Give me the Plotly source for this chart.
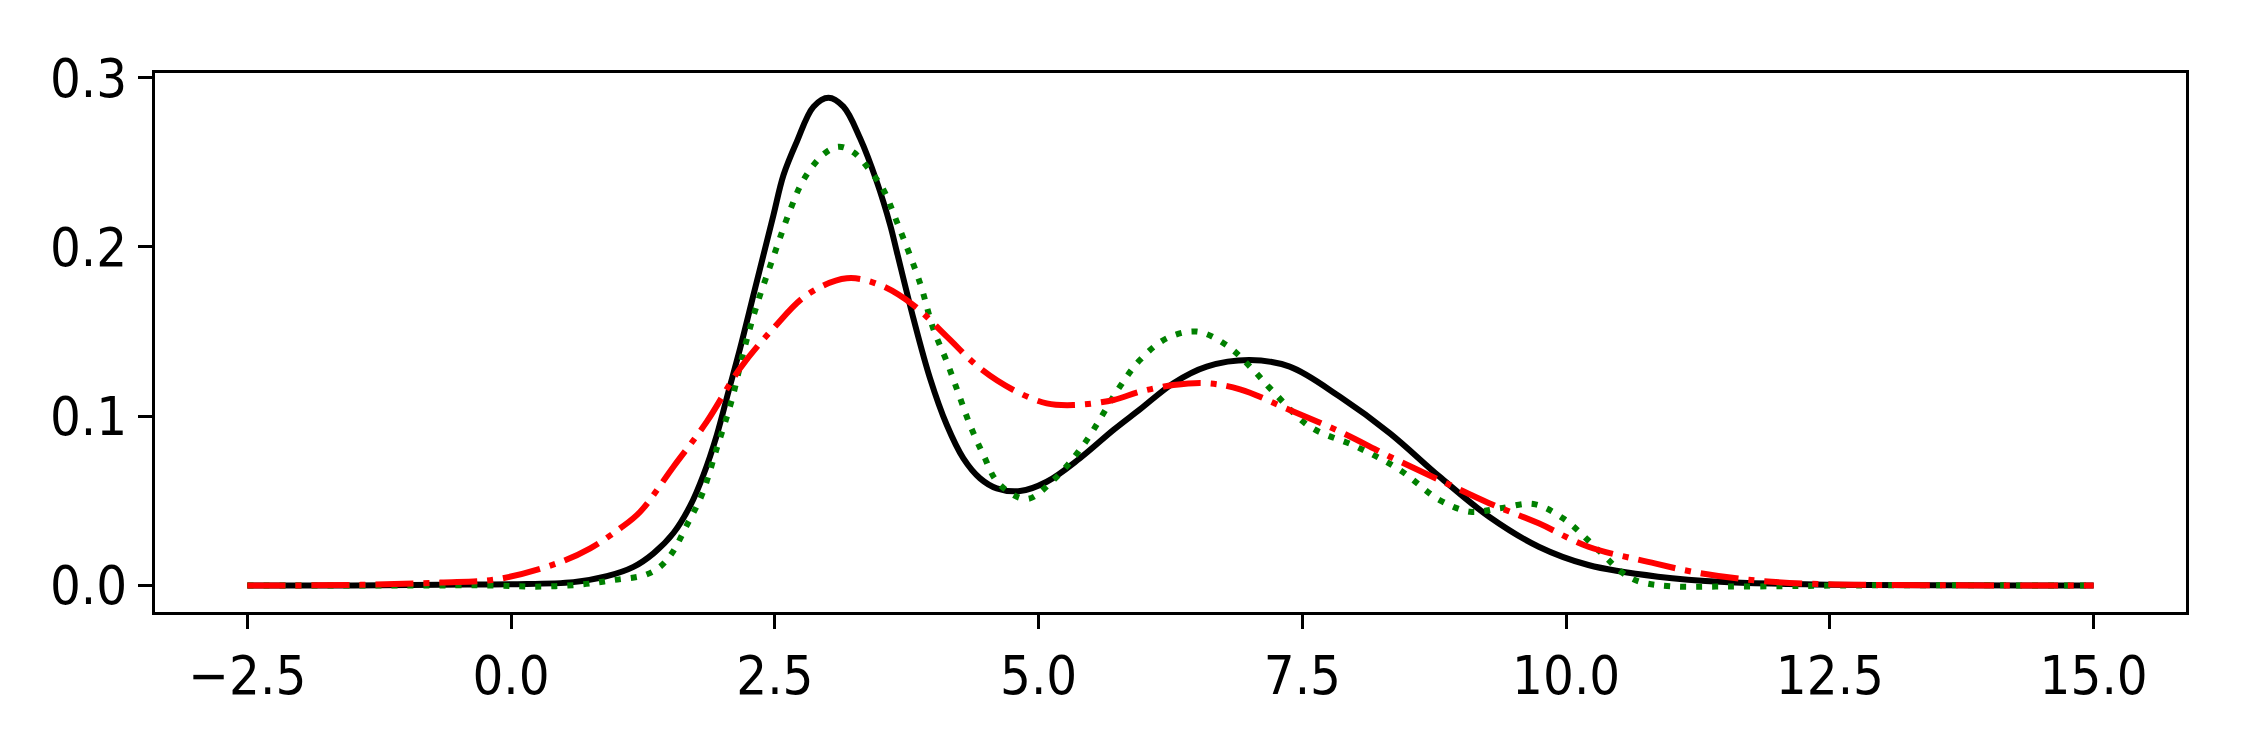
import plotly.graph_objects as go

# ---- data ----
black_x = [-2.5, -1.5, -0.67, 0.0, 0.59, 0.908, 1.16, 1.35, 1.539, 1.697, 1.823, 1.95, 2.06,
           2.171, 2.297, 2.392, 2.487, 2.582, 2.708, 2.866, 3.008, 3.15, 3.308, 3.466, 3.593,
           3.656, 3.813, 3.971, 4.13, 4.287, 4.445, 4.603, 4.824, 5.077, 5.39, 5.71, 5.96,
           6.277, 6.593, 7.0, 7.38, 7.856, 8.33, 8.80, 9.27, 9.74, 10.21, 10.87, 11.5, 12.5,
           13.5, 15.0]
black_y = [0.0, 0.0, 0.0005, 0.0008, 0.002, 0.0055, 0.011, 0.019, 0.031, 0.047, 0.0653,
           0.0889, 0.1145, 0.1401, 0.1716, 0.1953, 0.2189, 0.2425, 0.2622, 0.2829, 0.2882,
           0.2829, 0.2642, 0.2386, 0.213, 0.1972, 0.1579, 0.1224, 0.0948, 0.0751, 0.0633,
           0.0574, 0.0558, 0.0613, 0.0751, 0.0919, 0.104, 0.1195, 0.1293, 0.1332, 0.1293,
           0.1115, 0.0899, 0.0643, 0.0406, 0.0229, 0.0121, 0.0052, 0.002, 0.0005, 0.0001, 0.0]

green_x = [-2.5, -1.0, -0.134, 0.213, 0.655, 0.97, 1.271, 1.41, 1.524, 1.666, 1.808, 1.95,
           2.092, 2.203, 2.329, 2.487, 2.645, 2.771, 2.96, 3.103, 3.245, 3.434, 3.53, 3.656,
           3.877, 4.0, 4.13, 4.24, 4.35, 4.477, 4.619, 4.887, 5.14, 5.424, 5.77, 5.96, 6.214,
           6.5, 6.78, 7.02, 7.224, 7.572, 8.014, 8.425, 8.80, 9.09, 9.37, 9.69, 9.97, 10.32,
           10.54, 10.70, 11.0, 11.5, 12.1, 12.6, 15.0]
green_y = [0.0, 0.0, 0.0, -0.0007, 0.0005, 0.0032, 0.0062, 0.011, 0.019, 0.0357, 0.0535,
           0.0811, 0.1096, 0.1381, 0.1657, 0.1943, 0.2218, 0.2396, 0.2547, 0.2592, 0.2559,
           0.2425, 0.2337, 0.2149, 0.1785, 0.152, 0.1322, 0.1135, 0.0948, 0.0771, 0.0604,
           0.0511, 0.0623, 0.083, 0.1175, 0.1332, 0.146, 0.15, 0.142, 0.1283, 0.1145, 0.0938,
           0.082, 0.0682, 0.0505, 0.0436, 0.0456, 0.0481, 0.0397, 0.02, 0.0072, 0.0022,
           -0.0005, -0.0006, -0.0004, 0.0, 0.0]

red_x = [-2.5, -1.5, -0.67, -0.134, 0.434, 0.75, 1.034, 1.224, 1.539, 1.855, 2.171, 2.487,
         2.803, 3.182, 3.498, 3.813, 4.13, 4.445, 4.761, 5.077, 5.33, 5.71, 5.96, 6.277,
         6.593, 6.909, 7.38, 7.856, 8.33, 8.80, 9.27, 9.74, 10.21, 10.84, 11.19, 11.73,
         12.32, 13.0, 15.0]
red_y = [0.0, 0.0003, 0.0017, 0.0037, 0.0131, 0.022, 0.0338, 0.0436, 0.0702, 0.0968, 0.1283,
         0.152, 0.1716, 0.1815, 0.1775, 0.1657, 0.147, 0.1283, 0.1155, 0.1076, 0.1066,
         0.1096, 0.1145, 0.1184, 0.1195, 0.1159, 0.1037, 0.0909, 0.0761, 0.0623, 0.0486,
         0.0367, 0.0229, 0.0131, 0.0082, 0.0034, 0.001, 0.0003, 0.0]

x_tickvals = [-2.5, 0.0, 2.5, 5.0, 7.5, 10.0, 12.5, 15.0]
x_ticktext = ["−2.5", "0.0", "2.5", "5.0", "7.5", "10.0", "12.5", "15.0"]
y_tickvals = [0.0, 0.1, 0.2, 0.3]
y_ticktext = ["0.0", "0.1", "0.2", "0.3"]

fig = go.Figure()
fig.add_trace(go.Scatter(x=black_x, y=black_y, mode="lines", hoverinfo="skip",
                         line=dict(color="black", width=6, shape="spline", smoothing=1.0)))
fig.add_trace(go.Scatter(x=green_x, y=green_y, mode="lines", hoverinfo="skip",
                         line=dict(color="green", width=6, shape="spline", smoothing=1.0,
                                   dash="6px,10px")))
fig.add_trace(go.Scatter(x=red_x, y=red_y, mode="lines", hoverinfo="skip",
                         line=dict(color="red", width=6, shape="spline", smoothing=1.0,
                                   dash="38px,10px,6px,10px")))

font = dict(family="DejaVu Sans Condensed, DejaVu Sans", size=54, color="black")
axis_common = dict(showline=True, linecolor="black", linewidth=3, mirror=True,
                   ticks="outside", ticklen=14, tickwidth=3, tickcolor="black",
                   showgrid=False, zeroline=False, tickfont=font)

fig.update_layout(
    width=2250, height=750,
    margin=dict(l=155, r=64, t=73, b=138),
    paper_bgcolor="white", plot_bgcolor="white",
    showlegend=False,
    xaxis=dict(range=[-3.375, 15.875], tickmode="array", tickvals=x_tickvals,
               ticktext=x_ticktext, **axis_common),
    yaxis=dict(range=[-0.01566, 0.30278], tickmode="array", tickvals=y_tickvals,
               ticktext=y_ticktext, **axis_common),
)

fig.write_html("out.html",
               config={"displayModeBar": False},
               post_script="document.body.style.margin='0';document.body.style.padding='0';"
                           "document.body.style.overflow='hidden';")
